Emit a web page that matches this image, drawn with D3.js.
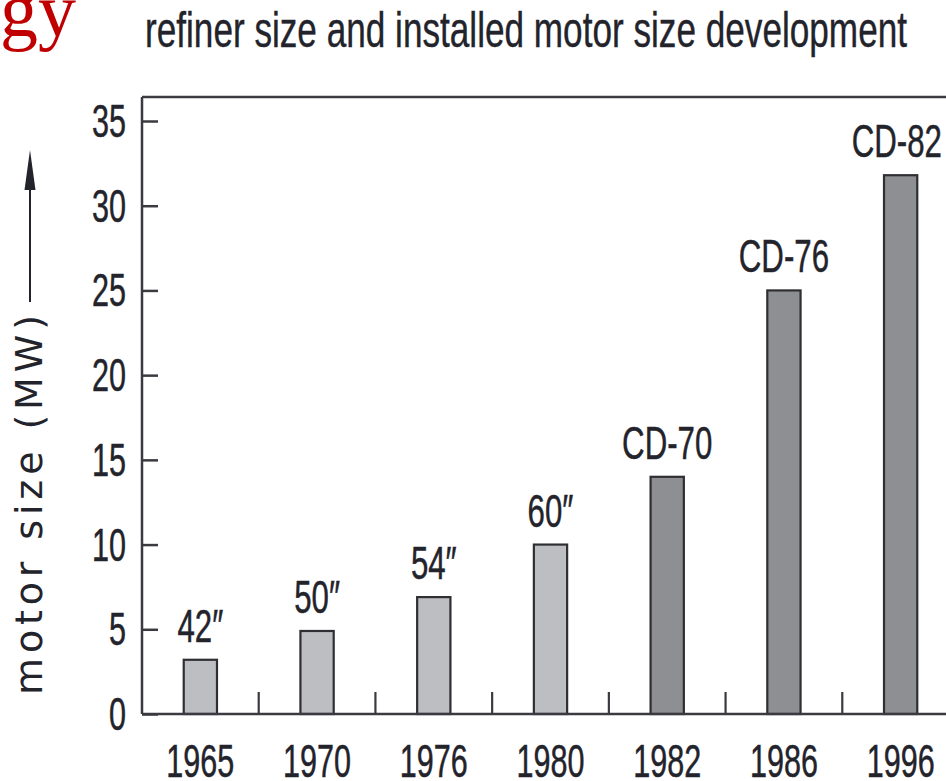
<!DOCTYPE html>
<html>
<head>
<meta charset="utf-8">
<script src="https://cdn.jsdelivr.net/npm/d3@7"></script>
<style>
  html, body { margin: 0; padding: 0; background: #fff; overflow: hidden; }
  svg { display: block; }
</style>
</head>
<body>
<div id="chart"></div>
<script>
// data
var years = ['1965', '1970', '1976', '1980', '1982', '1986', '1996'];
var motorMW = [3.2, 4.9, 6.9, 10, 14, 25, 31.8];
var refiners = ['42″', '50″', '54″', '60″', 'CD-70', 'CD-76', 'CD-82'];
var isCD = [false, false, false, false, true, true, true];
var yTicks = [0, 5, 10, 15, 20, 25, 30, 35];

var width = 946, height = 781;
var plotLeft = 142, plotRight = 959, plotTop = 97, plotBottom = 714;
var narrow = '"Liberation Sans Narrow", "Arial Narrow", "Liberation Sans", sans-serif';
var ink = '#23232b';
var axisInk = '#3a3a40';

var svg = d3.select('#chart')
  .append('svg')
  .attr('width', width)
  .attr('height', height);

// the original face is a condensed grotesque; work out how much to squeeze
// whatever sans we got so that "1965" comes out about 68px wide
var probe = svg.append('text')
  .attr('font-family', narrow)
  .attr('font-size', 46)
  .text('1965');
var squeeze = 68 / probe.node().getComputedTextLength();
probe.remove();

var x = d3.scaleBand()
  .domain(years)
  .range([plotLeft, plotRight])
  .paddingInner(0.715)
  .paddingOuter(0.3575);

var y = d3.scaleLinear()
  .domain([0, 35])
  .range([plotBottom, 121]);

// squeeze a text horizontally, keeps its anchor; a thin stroke makes up the weight
function condense(sel) {
  sel.each(function() {
    var len = this.getComputedTextLength();
    d3.select(this)
      .attr('textLength', len * squeeze)
      .attr('lengthAdjust', 'spacingAndGlyphs')
      .attr('stroke', ink)
      .attr('stroke-width', 0.5);
  });
}

// cropped red heading from the slide
svg.append('text')
  .attr('x', 76)
  .attr('y', 36)
  .attr('text-anchor', 'end')
  .attr('font-family', '"Liberation Serif", serif')
  .attr('font-size', 76)
  .attr('fill', '#c00000')
  .text('gy');

svg.append('text')
  .attr('x', 145)
  .attr('y', 47)
  .attr('font-family', narrow)
  .attr('font-size', 50)
  .attr('fill', ink)
  .attr('stroke', ink)
  .attr('stroke-width', 0.4)
  .attr('textLength', 762)
  .attr('lengthAdjust', 'spacingAndGlyphs')
  .text('refiner size and installed motor size development');

// bars
svg.selectAll('rect.bar')
  .data(years)
  .enter()
  .append('rect')
  .attr('class', 'bar')
  .attr('x', function(d) { return x(d); })
  .attr('width', x.bandwidth())
  .attr('y', function(d, i) { return y(motorMW[i]); })
  .attr('height', function(d, i) { return y(0) - y(motorMW[i]); })
  .attr('fill', function(d, i) { return isCD[i] ? '#8e8f93' : '#bdbec2'; })
  .attr('stroke', '#2e2e33')
  .attr('stroke-width', 2.2);

svg.selectAll('text.refiner')
  .data(years)
  .enter()
  .append('text')
  .attr('class', 'refiner')
  .attr('x', function(d) { return x(d) + x.bandwidth() / 2; })
  .attr('y', function(d, i) { return y(motorMW[i]) - 18; })
  .attr('text-anchor', 'middle')
  .attr('font-family', narrow)
  .attr('font-size', 47)
  .attr('fill', ink)
  .text(function(d, i) { return refiners[i]; })
  .call(condense)
  .each(function() {
    // keep the last label inside the page, as in the original
    var half = this.getComputedTextLength() / 2;
    var cx = +this.getAttribute('x');
    if (cx + half > width - 4) this.setAttribute('x', width - 4 - half);
  });

// frame: top and right lines
svg.append('path')
  .attr('d', 'M' + plotLeft + ',' + plotTop + 'H' + plotRight + 'V' + plotBottom)
  .attr('fill', 'none')
  .attr('stroke', axisInk)
  .attr('stroke-width', 2.5);

// y axis, ticks point inward
var yAxis = svg.append('g')
  .attr('transform', 'translate(' + plotLeft + ',0)')
  .call(d3.axisRight(y).tickValues(yTicks).tickSize(16).tickFormat(''));
yAxis.select('.domain').remove();
yAxis.selectAll('line').attr('stroke', axisInk).attr('stroke-width', 2.5);

svg.append('line')
  .attr('x1', plotLeft).attr('x2', plotLeft)
  .attr('y1', plotTop).attr('y2', plotBottom)
  .attr('stroke', axisInk)
  .attr('stroke-width', 2.5);

svg.selectAll('text.ytick')
  .data(yTicks)
  .enter()
  .append('text')
  .attr('class', 'ytick')
  .attr('x', 126)
  .attr('y', function(d) { return y(d) + 16; })
  .attr('text-anchor', 'end')
  .attr('font-family', narrow)
  .attr('font-size', 46)
  .attr('fill', ink)
  .text(function(d) { return d; })
  .call(condense);

// x axis: separators between bands, inward
var seps = years.slice(1);
svg.selectAll('line.sep')
  .data(seps)
  .enter()
  .append('line')
  .attr('class', 'sep')
  .attr('x1', function(d) { return x(d) - x.step() * x.paddingInner() / 2; })
  .attr('x2', function(d) { return x(d) - x.step() * x.paddingInner() / 2; })
  .attr('y1', plotBottom)
  .attr('y2', plotBottom - 22)
  .attr('stroke', axisInk)
  .attr('stroke-width', 2.2);

svg.append('line')
  .attr('x1', plotLeft).attr('x2', plotRight)
  .attr('y1', plotBottom).attr('y2', plotBottom)
  .attr('stroke', axisInk)
  .attr('stroke-width', 2.5);

svg.selectAll('text.year')
  .data(years)
  .enter()
  .append('text')
  .attr('class', 'year')
  .attr('x', function(d) { return x(d) + x.bandwidth() / 2; })
  .attr('y', 777)
  .attr('text-anchor', 'middle')
  .attr('font-family', narrow)
  .attr('font-size', 46)
  .attr('fill', ink)
  .text(function(d) { return d; })
  .call(condense);

// y title with arrow
svg.append('text')
  .attr('transform', 'translate(42,505) rotate(-90)')
  .attr('text-anchor', 'middle')
  .attr('font-family', '"DejaVu Sans", Verdana, sans-serif')
  .attr('font-size', 38)
  .attr('fill', ink)
  .attr('textLength', 380)
  .attr('lengthAdjust', 'spacing')
  .text('motor size (MW)');

svg.append('line')
  .attr('x1', 30).attr('x2', 30)
  .attr('y1', 302).attr('y2', 180)
  .attr('stroke', ink)
  .attr('stroke-width', 2);

svg.append('path')
  .attr('d', 'M30,150 L35.5,190 L24.5,190 Z')
  .attr('fill', ink);
</script>
</body>
</html>
